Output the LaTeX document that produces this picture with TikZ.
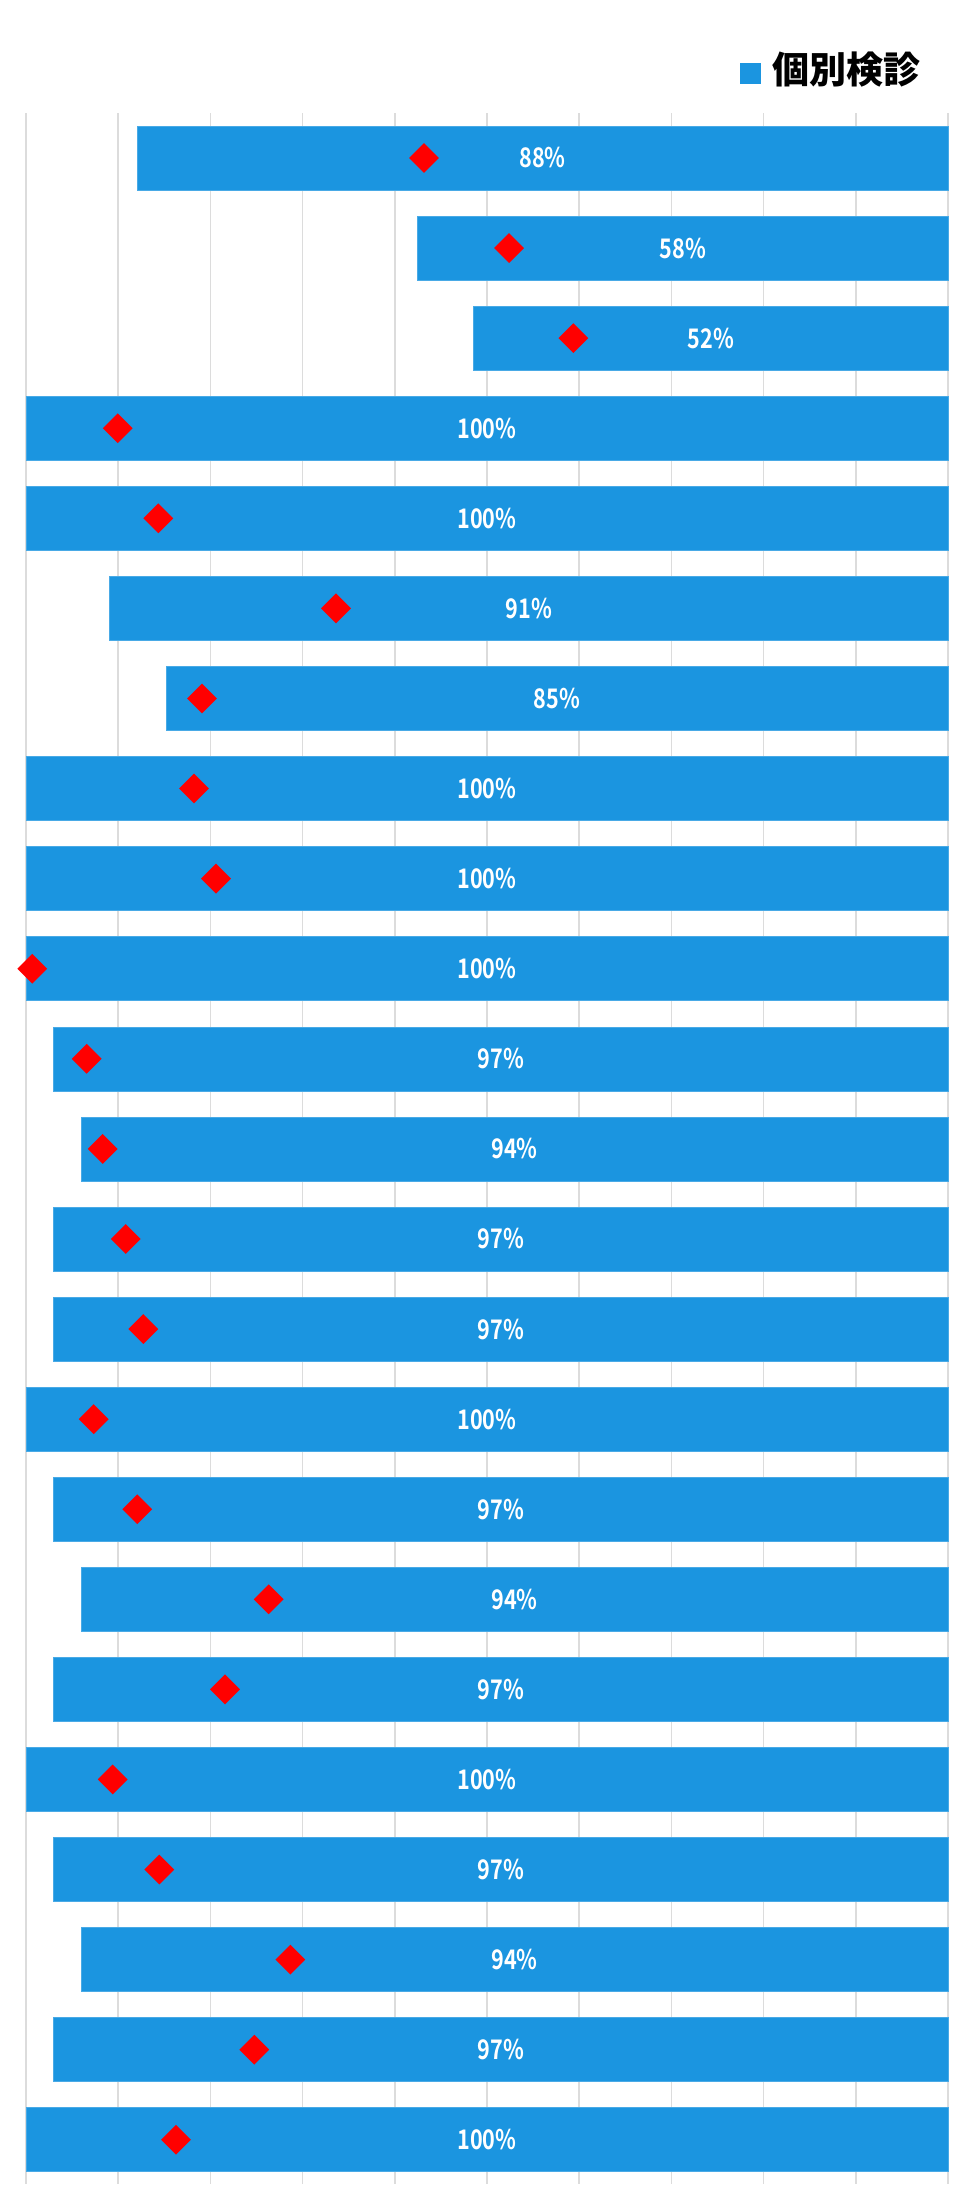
\documentclass[tikz,border=0pt]{standalone}
\usepackage{fontspec}
\setmainfont{Noto Sans CJK JP}
\newfontfamily\lblfont{Noto Sans CJK JP}[UprightFont=* Bold]
\usetikzlibrary{shapes.geometric}
\definecolor{barblue}{HTML}{1B95E0}
\definecolor{gridgray}{HTML}{DCDCDC}
\definecolor{dmdred}{HTML}{FF0000}
\newcommand{\narrowlbl}[1]{\scalebox{0.8}[1]{#1}}
\tikzset{
  gridline/.style={draw=gridgray, line width=1.6pt},
  barbox/.style={fill=barblue, draw=barblue!80!white, line width=0.6pt},
  lbl/.style={text=white, font=\lblfont\fontsize{27}{27}\selectfont, inner sep=0pt},
  dmd/.style={shape=diamond, aspect=1, fill=dmdred, minimum width=30pt, minimum height=30pt, inner sep=0pt},
  legtext/.style={font=\fontsize{37}{37}\selectfont\bfseries, inner sep=0pt, anchor=west, text=black}
}
\begin{document}
\begin{tikzpicture}[x=1pt,y=-1pt]
\useasboundingbox (0,0) rectangle (968,2204);
\fill[white] (0,0) rectangle (968,2204);
% legend
\node[fill=barblue, minimum width=21pt, minimum height=21pt, inner sep=0pt] (legsq) at (750.5,73.5) {};
\node[legtext] (legt) at (772,70) {個別検診};
% grid
\foreach \k in {0,...,10}{
  \coordinate (gt\k) at (26+\k*92.2,113);
  \coordinate (gb\k) at (26+\k*92.2,2184);
  \draw[gridline] (gt\k) -- (gb\k);
}
% bars
\foreach \i/\l/\d/\t in {
  1/137.2/424/88\%,
  2/417.5/509/58\%,
  3/473.7/573.4/52\%,
  4/26/117.7/100\%,
  5/26/158.3/100\%,
  6/109.5/336/91\%,
  7/166/202/85\%,
  8/26/194/100\%,
  9/26/216/100\%,
  10/26/32.3/100\%,
  11/53.7/86.7/97\%,
  12/81.3/102.7/94\%,
  13/53.7/125.7/97\%,
  14/53.7/143.3/97\%,
  15/26/93.7/100\%,
  16/53.7/137.3/97\%,
  17/81.3/268.7/94\%,
  18/53.7/225/97\%,
  19/26/112.7/100\%,
  20/53.7/159.3/97\%,
  21/81.3/290.3/94\%,
  22/53.7/254.3/97\%,
  23/26/176/100\%}{
  \pgfmathsetmacro\yt{126+(\i-1)*90.08}
  \pgfmathsetmacro\yc{\yt+32}
  \pgfmathsetmacro\xc{(\l+948)/2}
  \coordinate (bl\i) at (\l,\yt);
  \coordinate (br\i) at (948,\yt+64);
  \draw[barbox] (bl\i) rectangle (br\i);
  \node[dmd] (dia\i) at (\d,\yc) {};
  \node[lbl] (lab\i) at (\xc,\yc) {\narrowlbl{\t}};
}
\end{tikzpicture}
\end{document}
